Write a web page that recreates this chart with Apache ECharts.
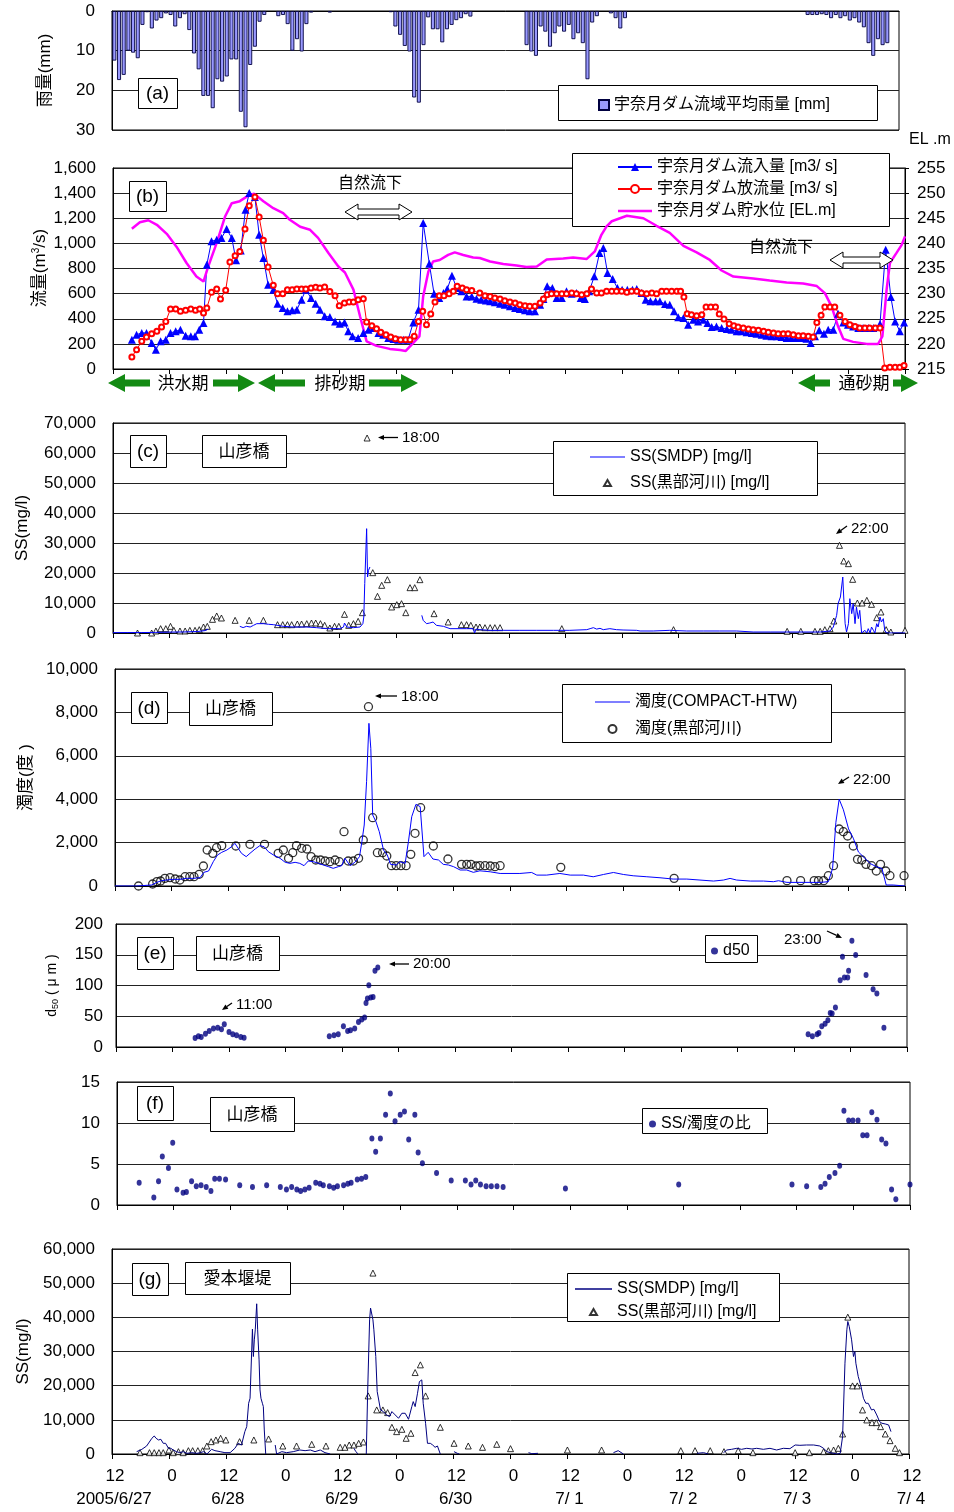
<!DOCTYPE html>
<html><head><meta charset="utf-8">
<script src="https://cdn.jsdelivr.net/npm/echarts@6/dist/echarts.min.js"></script>
<style>html,body{margin:0;padding:0;background:#fff}#c{width:954px;height:1512px}</style>
</head><body><div id="c"></div>
<script>
// ---------- DATA (hours counted from 2005/6/27 12:00) ----------
const dateLabels = ['2005/6/27','6/28','6/29','6/30','7/ 1','7/ 2','7/ 3','7/ 4'];

// (a) hourly basin-average rainfall [mm], hour 0..167
const rainfall = [12.5,17.4,16.1,10,10.5,11.9,3.5,0.3,4.4,2.4,1.8,0.6,1.0,3.9,1.8,0.8,4.8,10.7,14.7,21.4,21.4,24.5,17.2,17.8,16.5,12.2,12.2,25.4,29.3,13.6,9.0,2.7,1.0,0,0,1.3,1.0,3.3,10,7.1,10.2,3.3,0.4,0,0,0,0.4,0,0,0,0,0,0,0,0,0,0,0,0,0.3,3.9,6.0,8.8,10.2,21.8,23.1,8.6,1.6,4.6,4.6,7.9,4.6,3.5,2.3,1.8,0.8,1.4,0,0,0,0,0,0,0,0,0,0,0,8.6,10.2,11.3,3.9,5.2,9.0,5.6,3.9,5.2,3.5,7.1,5.6,8.1,17.2,2.9,1.3,0,0,0.6,1.8,4.4,1.8,0,0,0,0,0,0,0,0,0,0,0,0,0,0,0,0,0,0,0,0,0,0,0,0,0,0,0,0,0,0,0,0,0,0,0,0,0,0,1.0,1.0,1.0,0.8,1.0,1.8,1.0,1.8,1.3,2.4,1.8,2.9,4.1,8.1,11.3,7.1,8.6,8.1];

// (b) dam inflow / outflow [m3/s], reservoir level [EL.m]
const inflow = [[4,233],[5,273],[6.1,287],[7.1,287],[8.2,207],[9.1,154],[10.1,220],[11.2,233],[12.2,287],[13.3,300],[14.3,313],[15.4,265],[16.5,260],[17.4,260],[18.3,313],[19.2,366],[19.9,830],[20.9,1016],[22,1029],[23,1042],[24.1,1114],[25.2,1042],[26.1,865],[27.1,944],[28.1,1268],[28.9,1401],[30.1,1369],[31,1069],[31.9,883],[32.9,671],[34,631],[34.9,520],[36,485],[37,459],[38,467],[39,472],[40,552],[40.9,631],[42,565],[43,520],[43.9,472],[44.9,419],[46,414],[47.1,379],[48.1,361],[49.1,371],[49.9,300],[50.8,260],[52,247],[53.1,287],[54.2,313],[55.2,326],[56.3,287],[57.3,273],[58.4,247],[59.5,239],[60.5,233],[61.6,233],[62.6,233],[63.7,371],[64.8,472],[65.8,1162],[67.1,838],[68.1,600],[69.2,565],[70.1,605],[70.9,637],[71.9,743],[72.9,645],[73.9,618],[75,578],[76.1,578],[77.1,560],[78.1,552],[79.1,545],[80,539],[81,531],[82.1,520],[83.1,512],[84.2,499],[85.3,485],[86.3,477],[87.4,467],[88.4,459],[89.5,459],[90.6,512],[91.3,557],[92.1,658],[93.2,645],[94.1,565],[95.2,565],[96.2,618],[97.3,600],[98.3,605],[99.2,565],[100.1,557],[101,618],[102.1,738],[103.2,923],[104,963],[104.9,764],[106,716],[107,645],[108,631],[109.1,631],[110.2,631],[111.1,637],[112.1,605],[113,552],[114,539],[115.1,539],[116,539],[117.1,517],[118.1,512],[119,459],[119.9,411],[121,406],[122,353],[123.1,393],[124.1,379],[125.2,393],[126.1,366],[127,334],[128,339],[129.1,326],[130.2,318],[131.2,313],[132.3,300],[133.3,300],[134.4,292],[135.5,287],[136.5,281],[137.6,273],[138.6,265],[139.7,260],[140.8,260],[141.8,255],[142.9,247],[143.9,247],[145,247],[146.1,247],[147.1,241],[148,207],[148.9,260],[149.8,308],[150.8,281],[151.7,313],[152.8,313],[153.8,440],[154.9,371],[155.9,353],[157,339],[158.1,326],[159.1,326],[160.2,326],[161.3,326],[162.7,358],[163.9,950],[165,573],[165.9,379],[166.9,300],[167.8,371]];
const outflow = [[4,96],[5,154],[6.1,220],[7.1,255],[8.2,281],[9.3,300],[10.3,334],[11.2,379],[12.2,478],[13.3,478],[14.3,459],[15.4,467],[16.5,478],[17.5,467],[18.4,478],[19.2,446],[19.9,485],[20.9,610],[22,637],[22.8,557],[23.9,626],[24.8,852],[25.9,902],[26.9,936],[28,1114],[28.9,1300],[30.1,1369],[31,1210],[31.9,1024],[32.9,812],[34,666],[34.9,600],[36,600],[37,631],[38,631],[39,637],[40,637],[40.9,637],[42,645],[43,650],[43.9,645],[44.9,653],[46,616],[47.1,584],[48,504],[49.1,525],[50.1,533],[51,533],[52,552],[53.1,560],[53.8,374],[54.9,345],[55.9,321],[56.8,292],[57.9,273],[58.9,255],[59.9,241],[61,233],[62.1,233],[63,233],[63.9,260],[64.8,379],[65.7,459],[66.5,353],[67.4,438],[68.3,533],[69.2,584],[70.2,584],[71.3,600],[72.2,618],[73,658],[74.1,645],[75,631],[76.1,624],[77.8,605],[78.9,584],[80,578],[81,565],[82.1,557],[83.1,544],[84.2,533],[85.3,525],[86.3,512],[87.4,504],[88.4,499],[89.5,499],[90.6,525],[91.3,557],[92.1,592],[93,600],[94.1,600],[95.2,600],[96.2,600],[97.3,605],[98.3,600],[99.4,592],[100.5,600],[101.5,637],[102.6,605],[103.6,605],[104.7,618],[105.8,618],[106.8,618],[107.9,618],[109,610],[110,618],[111.1,618],[112.1,605],[113.2,600],[114.3,605],[115.3,600],[116.4,618],[117.4,618],[118.5,618],[119.6,618],[120.4,618],[121.1,573],[121.8,440],[122.7,432],[123.8,424],[124.9,432],[125.8,493],[126.8,493],[127.8,493],[128.6,438],[129.6,398],[130.7,361],[131.7,345],[132.6,334],[133.7,326],[134.8,318],[135.8,313],[136.9,308],[138,300],[139,292],[140.1,287],[141.1,281],[142.2,281],[143.2,281],[144.3,273],[145.4,265],[146.4,265],[147.5,260],[148.5,255],[149.3,370],[150.2,427],[151,493],[152.1,493],[153.1,493],[154.2,427],[155.3,379],[156.3,353],[157.4,339],[158.4,326],[159.5,326],[160.5,326],[161.7,326],[162.7,326],[163.7,8],[164.8,13],[165.9,13],[166.9,13],[167.8,27]];
const reservoirLevel = [[4,242.9],[5.7,244.2],[7.5,244.6],[9.3,243.7],[11.4,241.9],[13.5,239.3],[15.6,236.1],[17.7,233.4],[19.2,232.4],[20.2,235.4],[22,240.1],[23.8,245.4],[25.2,248],[26.9,248.4],[28.7,249.5],[29.9,249.9],[31.9,248.4],[34,247],[36.1,246],[37.5,244.7],[39.7,243.3],[41.8,242.7],[43.5,241.1],[45.7,238.1],[47.8,235.4],[49.2,234.2],[51,230.8],[52.4,225.5],[53.8,220.5],[55.9,219.6],[58.7,219],[60.9,218.8],[62.1,218.6],[63.3,219.8],[65,221.5],[65.8,229.5],[66.9,234.4],[67.9,236.4],[69.3,236.7],[71.1,237.7],[72.5,238.2],[74.3,237.7],[76.4,237.2],[77.8,237.1],[80,236.4],[82.8,235.9],[85.6,235.6],[87.7,235.3],[89.9,235.4],[92,236.8],[95.5,237],[97.6,237.2],[100.5,236.9],[102.2,238.4],[103.6,241.7],[104.7,243.4],[105.8,244.4],[109,245.5],[112.5,245],[115.3,243.5],[118.1,242.1],[121,239.5],[123.8,238.2],[126.6,236.7],[129.1,234.6],[131.6,233.4],[135.8,233],[139.3,232.6],[142.9,232.2],[146.4,232],[149.3,231.5],[151,230.1],[152.4,227.5],[153.8,223.5],[154.9,221],[157,220.4],[159.9,220],[162.3,220],[163.2,221.5],[164.1,230.8],[164.8,236.1],[166.2,238.1],[167.3,239.7],[168,241.4]];

// (c) SS at Yamabiko bridge [mg/l]
const ssSmdpYamabiko = [[0,100],[3,150],[6,150],[9,200],[12,300],[15,350],[18,500],[19.5,800],[20.2,1300],[20.3,'-'],[26.9,2222],[27.6,1800],[28.3,2222],[29.1,2000],[29.8,2555],[30.5,3111],[31.9,3111],[33,2900],[34,2777],[36.1,2222],[38.2,2000],[41.1,2000],[43.2,1777],[45.3,1444],[48.1,1444],[48.9,2000],[49.1,3333],[49.6,2000],[51,1777],[52.4,2000],[53,3111],[53.2,5333],[53.4,16443],[53.8,34777],[54,18665],[54.2,20887],[54.5,22000],[54.6,'-'],[65.5,5889],[65.8,4222],[66.5,3111],[67.2,3333],[67.9,3667],[68.6,2555],[70.1,2222],[71.5,1444],[73.6,1444],[75,1444],[76.4,1444],[76.7,0],[77,1333],[77.8,1111],[80,889],[82.8,889],[86.3,889],[89.9,889],[93.4,889],[96.9,889],[100.5,1111],[101.2,1444],[101.9,1777],[102.6,1300],[103.3,1555],[104,1111],[105.4,1444],[106.8,1111],[108.2,1000],[111.1,889],[111.8,667],[114.6,667],[118.1,889],[121.7,667],[125.2,667],[128.7,667],[132.3,667],[135.8,333],[139.4,333],[142.9,333],[146.4,333],[150,333],[152.1,667],[152.8,2000],[153.5,5889],[153.8,9777],[154.3,12000],[154.8,18665],[155,12000],[155.3,3111],[155.6,333],[156,3111],[156.3,11443],[156.7,6444],[157,9777],[157.4,3111],[157.7,8666],[158.1,4777],[158.4,7555],[158.8,0],[159.1,0],[159.5,889],[159.9,0],[160.2,1444],[160.6,0],[160.9,2000],[161.3,889],[161.6,0],[162,3111],[162.3,2000],[162.7,5333],[163,3666],[163.4,4777],[163.7,889],[164.1,0],[165.5,0],[168,0]];
const ssKurobeYamabiko = [[5.2,0],[8.2,0],[9.1,667],[10.1,1444],[11.2,1444],[12.2,2222],[12.9,889],[14.2,667],[15.3,667],[16.3,889],[17.4,889],[18.3,1111],[19.2,2000],[20,2222],[21.1,4556],[22,5667],[23,5000],[25.9,4222],[28.9,4222],[31.9,4222],[34.9,2778],[36,2778],[37,2778],[37.9,2778],[39.1,3000],[40,3000],[41.1,3111],[42.1,3333],[43,3333],[44,3111],[44.9,2556],[46,1667],[47,2222],[47.9,2222],[49.1,6222],[50,2556],[51,3111],[52,3889],[52.9,6778],[53.9,65000],[55.1,20111],[56.1,12222],[57,15889],[58.2,17778],[59.1,8667],[60.2,9444],[61.2,9778],[62.1,6778],[63,15111],[64,15111],[65.1,17778],[68.1,6444],[71.1,3667],[73.9,2778],[75,2778],[75.9,2556],[77,2000],[77.8,2000],[78.9,1778],[80,1778],[81,1778],[82.1,1778],[95.2,1444],[118.9,1111],[143,556],[145.9,556],[148.9,556],[150,556],[151,1111],[152.1,1444],[152.9,4000],[154.1,29222],[155,24000],[156,23111],[156.9,17889],[157.9,10000],[158.9,10000],[159.9,10889],[160.9,9556],[162,5111],[162.9,7000],[164,1111],[165,333],[168,889]];

// (d) turbidity at Yamabiko bridge [degree]
const turbCompact = [[0,0],[4.6,0],[7.8,46],[8.9,169],[9.9,246],[11,276],[12.4,307],[13.8,307],[15.2,353],[16.7,353],[18.1,384],[18.9,630],[19.9,691],[20.9,1121],[21.8,1428],[22.7,1551],[23.8,1659],[24.8,1812],[25.5,1966],[26.2,1736],[26.9,1505],[27.9,1352],[28.7,1505],[29.8,1705],[30.8,1859],[31.7,1812],[32.6,1582],[33.7,1428],[35.1,1275],[36.2,1091],[37.2,1044],[38.3,1091],[39.3,1044],[40.2,937],[41.1,1152],[42.2,1121],[43.3,1044],[44.3,968],[45.4,891],[46.4,814],[47.5,891],[48.2,937],[48.9,1275],[50,937],[51,1091],[52,1352],[52.5,2043],[53,2811],[53.5,4808],[54,7496],[54.4,6344],[54.8,3272],[55.5,2965],[56.2,2504],[57.1,1659],[57.9,1428],[58.6,998],[59.8,968],[60.6,1121],[61.7,1044],[62.4,2043],[63.1,3195],[64,3763],[64.9,3656],[65.7,1352],[66.6,1551],[67.6,1244],[68.8,1198],[69.8,998],[70.9,968],[72,891],[73.4,737],[74.8,737],[76.2,630],[77.6,700],[79.8,654],[81.9,578],[84,578],[86.1,578],[88.6,623],[89.7,502],[91.8,502],[94.6,578],[96.8,502],[99.6,502],[101.7,426],[103.9,532],[106,623],[108.1,532],[110.2,471],[113.1,426],[115.9,380],[118.7,319],[121.6,319],[124.4,274],[127.3,228],[129.4,274],[130.8,350],[132.2,274],[135.1,228],[137.9,228],[140,198],[141.1,243],[142.9,167],[146.4,167],[149.9,167],[151.7,198],[152.6,806],[153.3,2934],[154,3998],[154.9,3511],[156,2630],[157,2204],[158.1,1566],[159.2,1338],[160.6,1034],[162,882],[163.1,806],[164,46],[165.5,46],[168,0]];
const turbKurobe = [[5,0],[8,92],[8.9,200],[9.7,230],[10.6,353],[11.7,384],[12.8,323],[13.8,276],[14.9,430],[15.9,430],[16.8,430],[17.9,538],[18.8,922],[19.6,1659],[20.8,1505],[21.6,1766],[22.7,1859],[25.7,1843],[28.7,1920],[31.8,1920],[34.7,1505],[35.8,1659],[36.9,1275],[37.8,1536],[38.6,1859],[39.7,1736],[40.8,1705],[41.7,1352],[42.7,1198],[43.7,1198],[44.7,1152],[45.7,1121],[46.8,1198],[47.7,1121],[48.7,2504],[49.6,1152],[50.7,1152],[51.8,1275],[52.8,2120],[53.9,8264],[54.8,3149],[55.8,1536],[56.9,1536],[57.8,1382],[58.8,937],[59.8,937],[60.8,937],[61.9,937],[62.9,1459],[63.8,2427],[65,3610],[67.7,1843],[70.8,1244],[73.7,998],[74.8,998],[75.7,998],[76.8,922],[77.6,937],[78.7,937],[79.8,922],[80.8,891],[81.9,937],[94.8,860],[118.9,353],[142.9,246],[145.8,246],[148.7,246],[149.6,246],[150.7,246],[151.7,476],[152.8,937],[154,2627],[154.9,2504],[155.8,2304],[157,1843],[157.9,1229],[158.8,1198],[159.7,998],[160.9,937],[161.9,691],[162.8,998],[163.9,691],[164.8,476],[167.8,476]];

// (e) d50 [um]
const d50 = [[16.8,14.7],[17.5,17.4],[18.1,16.3],[19,21.7],[19.8,26.1],[20.7,29.9],[21.6,31.5],[22.4,29],[23,37],[24,24.5],[24.8,20.7],[25.6,19],[26.5,16.3],[27.2,15.2],[45.3,17.4],[46.3,19],[47.2,20.7],[48.3,33.7],[49.2,26.1],[49.8,27.2],[50.7,29.9],[51.5,40.8],[52.2,44.6],[52.8,47.8],[53.1,71.7],[53.4,78.8],[54.1,80.4],[54.6,81.5],[53.7,100.5],[55,123.9],[55.6,129.3],[147,20.7],[147.9,17.4],[148.9,20.7],[149.3,22.8],[149.9,33.7],[150.6,38],[151.2,43.5],[151.7,55.4],[152.1,54.3],[152.8,64.1],[153.8,108.7],[154.3,146.7],[154.7,113],[155.4,113],[155.6,123.9],[156.3,172.8],[157.1,149.5],[159.3,116.9],[160.8,94],[161.6,87],[163.1,31.5]];

// (f) SS / turbidity ratio
const ssTurbRatio = [[4.7,2.7],[7.8,0.9],[8.8,2.9],[9.6,5.9],[10.9,4.5],[11.8,7.6],[12.7,1.9],[14,1.5],[14.7,1.6],[15.8,2.9],[16.8,2.3],[17.8,2.4],[18.9,2.2],[19.9,1.7],[20.7,3.2],[21.7,3.2],[23,3.1],[26,2.4],[28.7,2.2],[31.7,2.4],[34.6,2.2],[35.9,1.9],[37,2.2],[38.1,1.9],[38.9,1.7],[39.8,1.9],[40.7,2.1],[42.1,2.7],[43,2.6],[43.7,2.4],[45,2.3],[45.9,2.1],[46.7,2.3],[48,2.4],[48.9,2.6],[49.6,2.7],[50.9,3.1],[51.8,3.2],[52.7,3.4],[54,8.1],[54.8,6.5],[55.8,8.1],[56.9,11],[57.9,13.6],[58.9,10.2],[60,11],[60.9,11.4],[61.8,8],[63.1,11],[63.8,6.4],[64.7,5.1],[67.7,3.9],[70.8,3],[73.8,3],[75,2.5],[76,3],[77,2.5],[78.2,2.3],[79.3,2.3],[80.5,2.3],[81.8,2.2],[95,2],[119,2.5],[143,2.5],[146.1,2.3],[149.1,2.2],[150,2.6],[150.9,3.4],[152.1,3.9],[153.1,4.8],[154,11.5],[155,10.3],[155.9,10.3],[157,10.3],[158,8.5],[158.9,8.5],[159.9,11.3],[161,10.4],[162,8],[162.9,7.5],[164.1,1.9],[165,0.7],[168,2.5]];

// (g) SS at Aimoto weir [mg/l]
const ssSmdpAimoto = [[5.2,684],[6.3,1368],[7.3,2345],[8.4,4592],[8.9,5276],[9.3,4592],[9.8,4103],[10.3,4299],[10.8,3126],[11.3,3126],[11.9,1661],[12.4,1661],[12.9,1172],[13.6,684],[14.3,390],[15,684],[15.8,195],[16.8,390],[17.9,195],[18.6,390],[19.3,684],[20,0],[21,1368],[21.7,977],[22.8,684],[23.8,390],[24.9,390],[25.9,1661],[26.6,3126],[27.3,2638],[28,6546],[28.4,8011],[28.8,14850],[29.1,16316],[29.3,16800],[29.6,36540],[29.8,28528],[30,33413],[30.2,36344],[30.5,43965],[30.7,36344],[31,27551],[31.2,18758],[31.4,16316],[31.7,14850],[31.9,13873],[32.1,7035],[32.4,0],[32.5,'-'],[34.4,2638],[34.7,0],[35.8,684],[36.8,390],[38.2,684],[39.6,1172],[40.7,977],[41.8,1172],[42.8,684],[43.9,1172],[44.9,390],[46,0],[46.1,'-'],[51,1661],[51.4,684],[51.9,0],[52,'-'],[53.6,0],[53.9,18758],[54.3,39275],[54.5,42700],[55,39275],[55.2,36344],[55.6,28528],[55.9,18270],[56.3,17781],[56.6,12896],[57.2,12408],[57.9,11431],[58.5,10942],[59,12408],[59.7,11431],[60.4,10454],[61.1,11920],[61.8,11920],[62.5,10160],[63.2,13873],[63.5,15338],[63.9,13873],[64.4,17781],[64.8,21200],[65.3,21690],[65.6,14850],[66.1,8988],[66.5,3126],[67.1,3126],[67.6,2638],[68.1,1954],[68.6,2345],[69.2,0],[69.3,'-'],[72.1,684],[72.8,195],[73.2,0],[73.3,'-'],[87.8,390],[88.5,100],[89.8,200],[90,'-'],[105.7,390],[106.7,977],[107.8,0],[108,'-'],[123.3,195],[124.7,390],[125.7,0],[126,'-'],[128.9,390],[129.6,1172],[130.6,1368],[131.7,1661],[132.7,1368],[133.8,1661],[134.9,1465],[135.9,1661],[137.3,1368],[138.7,1661],[140.1,1172],[141.5,1661],[142.9,1563],[144,2638],[145,2540],[146.4,2638],[147.9,2638],[149.2,2345],[150,1661],[150.7,684],[151.4,390],[152.1,195],[152.8,0],[153.5,195],[154,5080],[154.5,26574],[154.9,36344],[155.1,38787],[155.4,37321],[155.9,33413],[156.3,28528],[156.6,29993],[156.8,26574],[157.3,22666],[157.8,20224],[158.4,16316],[158.9,14850],[159.4,14850],[160.1,12896],[160.6,13091],[161.2,11431],[161.8,9477],[162.3,8988],[163,8793],[163.7,8500],[164.2,6546]];
const ssKurobeAimoto = [[5.9,390],[7.9,390],[8.9,390],[9.9,390],[10.8,390],[12,1172],[12.9,390],[14,684],[15,390],[16.1,977],[17,977],[18.1,977],[19.1,977],[20,2345],[20.9,3615],[21.9,4103],[22.9,4592],[24,4103],[26.9,3615],[29.9,4103],[33,4397],[36,2345],[38.9,2345],[42.1,2833],[45.1,2345],[48.1,1954],[49.1,1954],[50,2638],[51,2638],[52,3126],[53,3517],[54,17000],[55,52950],[55.8,12900],[57.1,12900],[58.1,12115],[59,7816],[60,6546],[61.1,7230],[62,4592],[63,6057],[63.9,23839],[65,26086],[66.1,17000],[69.2,7816],[72.1,3126],[75.1,2345],[78.1,1954],[81.1,2833],[84,1563],[96,1172],[103.2,1172],[119.9,977],[122.9,977],[126.1,977],[129,684],[132,977],[135.1,390],[144,390],[147,390],[150,684],[151,977],[152.1,1172],[153.1,1661],[154,5862],[155.1,40057],[156.1,19931],[157.1,19931],[158.2,12896],[159.1,9965],[160.2,9184],[161.1,9184],[162,8011],[163,5862],[164,3908],[165.1,1661],[166,390],[168.1,2345]];

// ---------- CHART ----------
const FONT = "'Liberation Sans','Noto Sans CJK JP',sans-serif";
const TS = {fontSize:16, fontFamily:FONT, color:'#000'};
const LAB = {fontSize:17, fontFamily:FONT, color:'#000'};
const fmt = v => String(v).replace(/\B(?=(\d{3})+(?!\d))/g, ',');
const ICON_LINE = 'path://M0,0H40V1.4H0Z';
const ICON_THICK = 'path://M0,0H40V3H0Z';
const ICON_TRI = 'path://M5,0L10,8.66L0,8.66Z';
const ICON_CIRC = 'path://M10,5A5,5,0,1,1,0,5A5,5,0,1,1,10,5Z';

const grids = [
  {left:112, top:11, width:787, height:119},
  {left:113, top:168, width:792, height:201},
  {left:113, top:423, width:792, height:210},
  {left:115, top:669, width:790, height:217},
  {left:116, top:924, width:791, height:123},
  {left:117, top:1082, width:793, height:123},
  {left:112, top:1249, width:797, height:205}
].map(g => Object.assign(g, {show:true, borderColor:'#000', borderWidth:1}));

const xAxes = grids.map((g, i) => ({
  type:'value', gridIndex:i, min:0, max:168, interval:12,
  axisLine:{show:true, lineStyle:{color:'#000', width:1}},
  axisTick:{show:i>0, length:5, lineStyle:{color:'#000'}},
  splitLine:{show:false},
  axisLabel: i === 6 ? {
    show:true, margin:12,
    formatter: v => { const k = Math.round(v/12); return k % 2 === 0 ? '{t|12}\n{d|' + dateLabels[k/2] + '}' : '{t|0}'; },
    rich:{t:Object.assign({lineHeight:20, padding:[0,0,0,6]}, LAB), d:Object.assign({lineHeight:26, padding:[0,0,0,4]}, LAB)}
  } : {show:false}
}));

function yAx(gi, min, max, interval, name, gap, extra) {
  return Object.assign({
    type:'value', gridIndex:gi, min:min, max:max, interval:interval,
    axisLine:{show:true, lineStyle:{color:'#000'}},
    axisTick:{show:false},
    splitLine:{show:true, lineStyle:{color:'#222', width:1}},
    axisLabel:Object.assign({margin:17, formatter:fmt}, LAB),
    name:name, nameLocation:'middle', nameGap:gap,
    nameTextStyle:{fontSize:17, fontFamily:FONT, color:'#000'}
  }, extra || {});
}

const yAxes = [
  yAx(0, 0, 30, 10, '雨量(mm)', 58, {inverse:true}),
  yAx(1, 0, 1600, 200, '', 50),
  {type:'value', gridIndex:1, position:'right', min:215, max:255, interval:5,
   axisLine:{show:true, lineStyle:{color:'#000'}}, axisTick:{show:true, length:4, lineStyle:{color:'#000'}},
   splitLine:{show:false}, axisLabel:Object.assign({margin:12}, LAB)},
  yAx(2, 0, 70000, 10000, 'SS(mg/l)', 82),
  yAx(3, 0, 10000, 2000, '濁度(度 )', 76),
  yAx(4, 0, 200, 50, 'd{s|50} ( μ m )', 56, {axisLabel:Object.assign({margin:13, formatter:fmt}, LAB), nameTextStyle:{fontSize:14, fontFamily:FONT, color:'#000', rich:{s:{fontSize:9, fontFamily:FONT, color:'#000', padding:[6,0,0,0]}}}}),
  yAx(5, 0, 15, 5, '', 50),
  yAx(6, 0, 60000, 10000, 'SS(mg/l)', 80)
];

const series = [
  {name:'宇奈月ダム流域平均雨量 [mm]', type:'bar', xAxisIndex:0, yAxisIndex:0, barWidth:4,
   data: rainfall.map((v, i) => [i + 0.5, v > 0 ? v : '-']),
   itemStyle:{color:'#9999ff', borderColor:'#000040', borderWidth:0.9}},
  {name:'宇奈月ダム流入量 [m3/ s]', type:'line', xAxisIndex:1, yAxisIndex:1, data:inflow,
   symbol:'triangle', symbolSize:8, color:'#0000ff', itemStyle:{color:'#0000ff'}, lineStyle:{width:1, color:'#0000ff'}},
  {name:'宇奈月ダム放流量 [m3/ s]', type:'line', xAxisIndex:1, yAxisIndex:1, data:outflow,
   symbol:'emptyCircle', symbolSize:5, color:'#ff0000', itemStyle:{color:'#ff0000', borderWidth:1.2}, lineStyle:{width:1, color:'#ff0000'}},
  {name:'宇奈月ダム貯水位 [EL.m]', type:'line', xAxisIndex:1, yAxisIndex:2, data:reservoirLevel,
   symbol:'none', color:'#ff00ff', itemStyle:{color:'#ff00ff'}, lineStyle:{width:2.5, color:'#ff00ff'}},
  {name:'SS(SMDP) [mg/l]', type:'line', xAxisIndex:2, yAxisIndex:3, data:ssSmdpYamabiko,
   symbol:'none', color:'#0000ff', itemStyle:{color:'#0000ff'}, lineStyle:{width:1, color:'#0000ff'}},
  {name:'SS(黒部河川) [mg/l]', type:'scatter', xAxisIndex:2, yAxisIndex:3, data:ssKurobeYamabiko,
   symbol:'triangle', symbolSize:6, itemStyle:{color:'#fff', borderColor:'#000', borderWidth:1}},
  {name:'濁度(COMPACT-HTW)', type:'line', xAxisIndex:3, yAxisIndex:4, data:turbCompact,
   symbol:'none', color:'#0000ff', itemStyle:{color:'#0000ff'}, lineStyle:{width:1, color:'#0000ff'}},
  {name:'濁度(黒部河川)', type:'scatter', xAxisIndex:3, yAxisIndex:4, data:turbKurobe,
   symbol:'circle', symbolSize:8, itemStyle:{color:'rgba(255,255,255,0)', borderColor:'#000', borderWidth:1.3}},
  {name:'d50', type:'scatter', xAxisIndex:4, yAxisIndex:5, data:d50,
   symbol:'circle', symbolSize:[5,6], itemStyle:{color:'#000080'}},
  {name:'SS/濁度の比', type:'scatter', xAxisIndex:5, yAxisIndex:6, data:ssTurbRatio,
   symbol:'circle', symbolSize:[5,6], itemStyle:{color:'#000080'}},
  {name:'SS(SMDP) [mg/l] ', type:'line', xAxisIndex:6, yAxisIndex:7, data:ssSmdpAimoto,
   symbol:'none', color:'#000080', itemStyle:{color:'#000080'}, lineStyle:{width:1, color:'#000080'}},
  {name:'SS(黒部河川) [mg/l] ', type:'scatter', xAxisIndex:6, yAxisIndex:7, data:ssKurobeAimoto,
   symbol:'triangle', symbolSize:6, itemStyle:{color:'#fff', borderColor:'#000', borderWidth:1}}
];

const LEG = {padding:0, selectedMode:false, textStyle:TS, z:6, symbolKeepAspect:true};
const legends = [
  Object.assign({data:[{name:'宇奈月ダム流域平均雨量 [mm]', icon:'rect'}], left:598, top:97, itemWidth:10, itemHeight:10}, LEG),
  Object.assign({data:['宇奈月ダム流入量 [m3/ s]','宇奈月ダム放流量 [m3/ s]',{name:'宇奈月ダム貯水位 [EL.m]', icon:ICON_THICK}], orient:'vertical', left:617, top:159, itemWidth:34, itemHeight:10, itemGap:6}, LEG),
  Object.assign({data:[{name:'SS(SMDP) [mg/l]', icon:ICON_LINE},{name:'SS(黒部河川) [mg/l]', icon:ICON_TRI}], orient:'vertical', left:590, top:449, itemWidth:35, itemHeight:6, itemGap:10}, LEG),
  Object.assign({data:[{name:'濁度(COMPACT-HTW)', icon:ICON_LINE},{name:'濁度(黒部河川)', icon:ICON_CIRC}], orient:'vertical', left:595, top:694, itemWidth:35, itemHeight:8, itemGap:11}, LEG),
  Object.assign({data:['d50'], left:711, top:943, itemWidth:7, itemHeight:7}, LEG),
  Object.assign({data:['SS/濁度の比'], left:649, top:1116, itemWidth:7, itemHeight:7}, LEG),
  Object.assign({data:[{name:'SS(SMDP) [mg/l] ', icon:ICON_LINE},{name:'SS(黒部河川) [mg/l] ', icon:ICON_TRI}], orient:'vertical', left:575, top:1281, itemWidth:37, itemHeight:6, itemGap:7}, LEG)
];

// ---------- annotation graphics ----------
const G = [];
function box(x1, y1, x2, y2) {
  G.push({type:'rect', z:3, shape:{x:x1 + 0.5, y:y1 + 0.5, width:x2 - x1, height:y2 - y1}, style:{fill:'#fff', stroke:'#000', lineWidth:1}});
}
function txt(s, x, y, size, align) {
  G.push({type:'text', z:7, x:x, y:y, style:{text:s, fontSize:size, fontFamily:FONT, fill:'#000', textAlign:align || 'center', textVerticalAlign:'middle', verticalAlign:'middle'}});
}
function poly(pts, fill, stroke) {
  G.push({type:'polygon', z:7, shape:{points:pts}, style:{fill:fill, stroke:stroke || null, lineWidth:1}});
}
function arrowL(tip, tail, y, hl, hh, sh) { return [[tip,y],[tip+hl,y-hh],[tip+hl,y-sh],[tail,y-sh],[tail,y+sh],[tip+hl,y+sh],[tip+hl,y+hh]]; }
function arrowR(tail, tip, y, hl, hh, sh) { return [[tip,y],[tip-hl,y-hh],[tip-hl,y-sh],[tail,y-sh],[tail,y+sh],[tip-hl,y+sh],[tip-hl,y+hh]]; }
function dbl(x1, x2, y, hl, hh, sh) { return [[x1,y],[x1+hl,y-hh],[x1+hl,y-sh],[x2-hl,y-sh],[x2-hl,y-hh],[x2,y],[x2-hl,y+hh],[x2-hl,y+sh],[x1+hl,y+sh],[x1+hl,y+hh]]; }
function thin(x1, y1, x2, y2) {
  const dx = x2 - x1, dy = y2 - y1, L = Math.hypot(dx, dy), ux = dx / L, uy = dy / L;
  const hl = 6, hw = 2.6, bx = x2 - ux * hl, by = y2 - uy * hl;
  G.push({type:'line', z:7, shape:{x1:x1, y1:y1, x2:bx, y2:by}, style:{stroke:'#000', lineWidth:1.3}});
  poly([[x2,y2],[bx - uy*hw, by + ux*hw],[bx + uy*hw, by - ux*hw]], '#000');
}

// flow-axis title (rotated, with superscript)
G.push({type:'text', z:7, x:40, y:268, rotation:Math.PI/2,
  style:{text:'流量(m{s|3}/s)', fontSize:17, fontFamily:FONT, fill:'#000', textAlign:'center', verticalAlign:'middle', textVerticalAlign:'middle',
         rich:{s:{fontSize:10, fontFamily:FONT, fill:'#000', padding:[0,0,8,0]}}}});

// panel labels & legend boxes
[[138,78,177,108,'(a)'],[129,181,166,211,'(b)'],[130,435,166,467,'(c)'],[131,692,167,723,'(d)'],[137,937,173,969,'(e)'],[137,1086,173,1120,'(f)'],[132,1263,168,1295,'(g)']].forEach(b => { box(b[0],b[1],b[2],b[3]); txt(b[4], (b[0]+b[2])/2, (b[1]+b[3])/2 + 1, 19); });
[[202,435,286,467,'山彦橋'],[189,692,272,725,'山彦橋'],[196,936,279,970,'山彦橋'],[210,1097,294,1131,'山彦橋'],[185,1262,290,1294,'愛本堰堤']].forEach(b => { box(b[0],b[1],b[2],b[3]); txt(b[4], (b[0]+b[2])/2, (b[1]+b[3])/2 + 1, 17); });
[[558,85,877,120],[572,153,889,226],[553,441,817,495],[562,684,831,742],[705,935,757,962],[642,1108,767,1133],[567,1273,779,1321]].forEach(b => box(b[0],b[1],b[2],b[3]));

// panel (b) period arrows
const GREEN = '#138a13';
poly(arrowL(108,150,383,17,9,3.5), GREEN); txt('洪水期', 183, 384, 17); poly(arrowR(213,255,383,17,9,3.5), GREEN);
poly(arrowL(258,305,383,17,9,3.5), GREEN); txt('排砂期', 340, 384, 17); poly(arrowR(369,418,383,17,9,3.5), GREEN);
poly(arrowL(798,830,383,17,9,3.5), GREEN); txt('通砂期', 864, 384, 17); poly(arrowR(893,918,383,17,9,3.5), GREEN);
// free-flow markers
txt('自然流下', 370, 184, 16); poly(dbl(345,412,212,13,8,3), '#fff', '#000');
txt('自然流下', 781, 248, 16); poly(dbl(830,893,260,13,8,3), '#fff', '#000');
txt('EL .m', 909, 140, 16, 'left');
// time annotations
thin(398,437.5,378,437.5); txt('18:00', 402, 438, 15, 'left');
thin(847,526,836,534); txt('22:00', 851, 529, 15, 'left');
thin(397,696,375,696); txt('18:00', 401, 697, 15, 'left');
thin(849,777,838,784); txt('22:00', 853, 780, 15, 'left');
thin(232,1003,222,1010); txt('11:00', 236, 1005, 15, 'left');
thin(409,964,389,964); txt('20:00', 413, 964, 15, 'left');
txt('23:00', 784, 940, 15, 'left'); thin(827,931,842,938);

const chart = echarts.init(document.getElementById('c'), null, {renderer:'canvas'});
chart.setOption({
  animation:false,
  backgroundColor:'#fff',
  textStyle:{fontFamily:FONT},
  grid:grids, xAxis:xAxes, yAxis:yAxes, series:series, legend:legends, graphic:G
});
</script></body></html>
